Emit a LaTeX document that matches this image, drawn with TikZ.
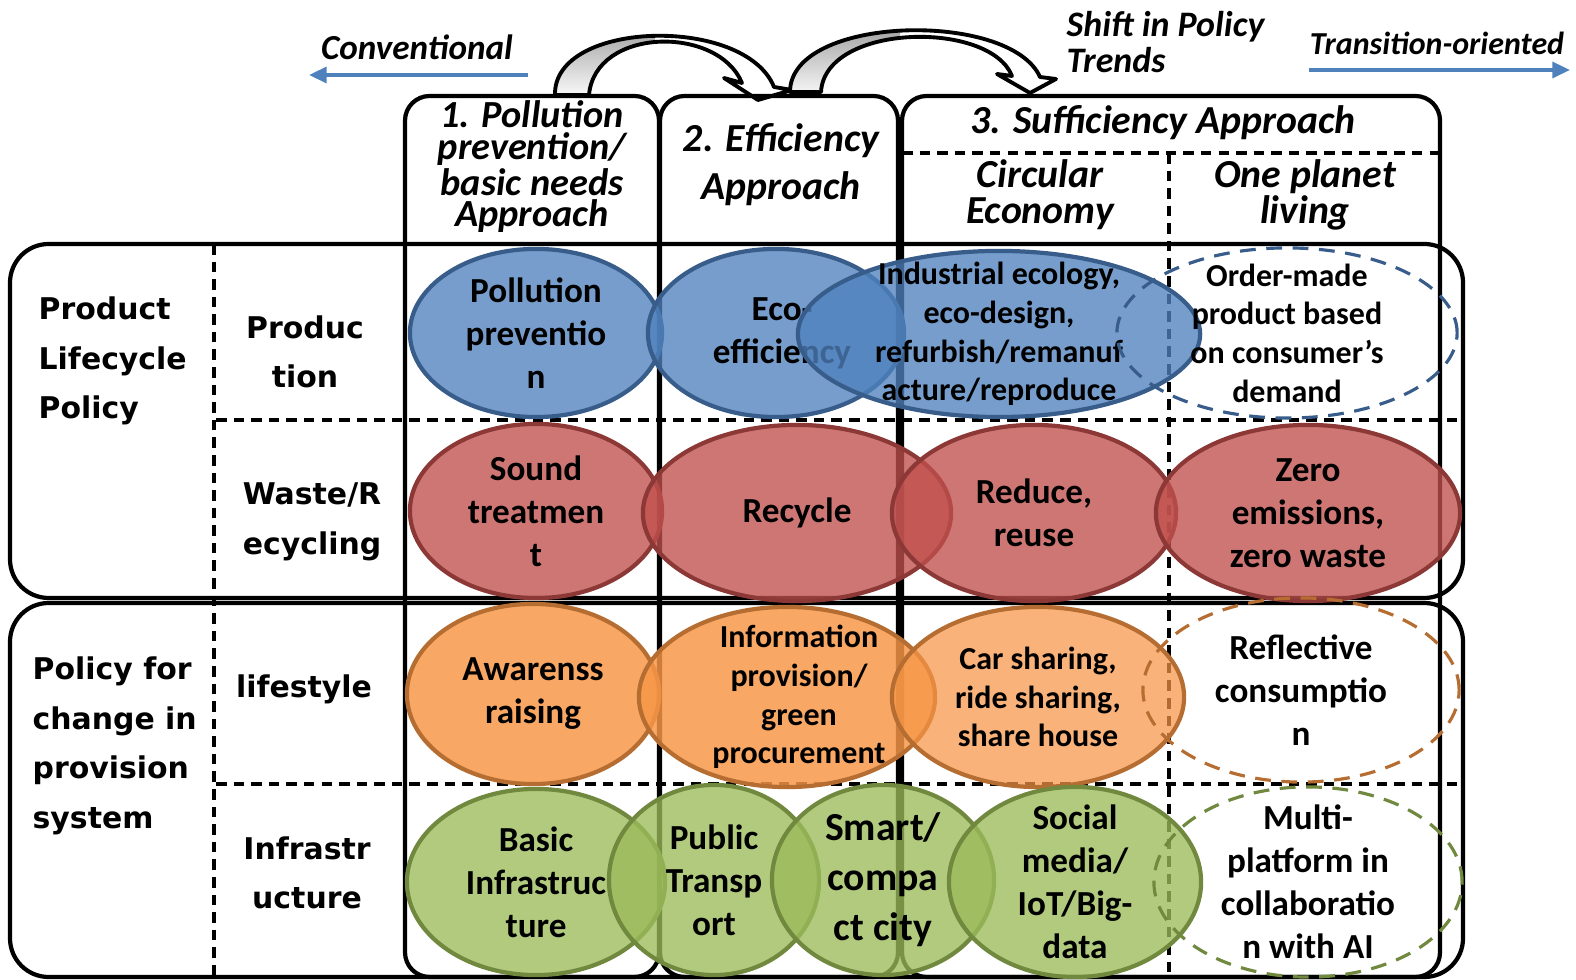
\documentclass[tikz,border=0pt]{standalone}
\usepackage{fontspec}
\setmainfont{Carlito}
\newfontfamily\rowfont{DejaVu Sans}
\usetikzlibrary{shapes.geometric,arrows.meta}

\definecolor{blueF}{RGB}{79,129,189}
\definecolor{blueD}{RGB}{56,93,138}
\definecolor{redF}{RGB}{192,80,77}
\definecolor{redD}{RGB}{140,56,54}
\definecolor{orangeF}{RGB}{247,150,70}
\definecolor{orangeD}{RGB}{182,109,49}
\definecolor{greenF}{RGB}{155,187,89}
\definecolor{greenD}{RGB}{113,137,63}
\definecolor{shade}{RGB}{204,204,204}

% outlines of the two bent arrows
\newcommand{\bendA}{(555,95) .. controls (553,20) and (745,15) .. (774,87) -- (792,90) -- (758,100) -- (724,78) -- (742,83) .. controls (718,25) and (595,27) .. (589,95) -- cycle}
\newcommand{\bendB}{(790,92) .. controls (790,15) and (1010,10) .. (1040,77) -- (1056,79) -- (1030,93) -- (997,74) -- (1012,76) .. controls (990,20) and (825,23) .. (821,92) -- cycle}

\begin{document}
\begin{tikzpicture}[x=0.01cm,y=-0.01cm,
	frame/.style={line width=1.2pt, rounded corners=7pt},
	split/.style={line width=0.9pt, dash pattern=on 3pt off 2pt},
	ellsize/.style 2 args={minimum width=#1*0.02cm, minimum height=#2*0.02cm},
	blob/.style={ellipse, line width=1.2pt, fill opacity=0.78, inner sep=0pt},
	hope/.style={ellipse, line width=0.9pt, dash pattern=on 4.5pt off 3pt, inner sep=0pt},
	txt/.style={font=\fontsize{10}{12.2}\selectfont\bfseries, align=center, inner sep=0pt},
	small/.style={font=\fontsize{9.1}{11}\selectfont\bfseries},
	head/.style={font=\fontsize{11.3}{13.7}\selectfont\bfseries\itshape, align=center, inner sep=0pt},
	rowlbl/.style={font=\rowfont\fontsize{8.5}{14.1}\selectfont\bfseries, align=center, inner sep=0pt},
	trend/.style={-{Triangle[length=5pt,width=4.5pt]}, line width=1pt, draw=blueF}]
	\useasboundingbox (0,0) rectangle (1576,980);

	% bent arrows on top
	\fill[white] \bendA;
	\begin{scope}
		\clip \bendA;
		\fill[shade] (540,0) rectangle (655,100);
	\end{scope}
	\draw[line width=1.1pt, line join=round] \bendA;
	\fill[white] \bendB;
	\begin{scope}
		\clip \bendB;
		\fill[shade] (780,0) rectangle (900,100);
	\end{scope}
	\draw[line width=1.1pt, line join=round] \bendB;

	% trend labels
	\node[head, font=\fontsize{10}{10}\selectfont\bfseries\itshape] (conv) at (417,47) {Conventional};
	\coordinate (convR) at (528,75);
	\coordinate (convL) at (309,75);
	\draw[trend] (convR) -- (convL);
	\node[head, font=\fontsize{10.2}{10}\selectfont\bfseries\itshape, align=left, anchor=west] (shift) at (1066,42) {Shift in Policy\\Trends};
	\node[head, font=\fontsize{9.1}{10}\selectfont\bfseries\itshape] (trans) at (1437,43) {Transition-oriented};
	\coordinate (transL) at (1309,70);
	\coordinate (transR) at (1570,70);
	\draw[trend] (transL) -- (transR);

	% column and row frames
	\draw[frame] (405,96) rectangle (659,977);
	\draw[frame] (660,96) rectangle (898,977);
	\draw[frame] (902,96) rectangle (1440,977);
	\draw[frame, rounded corners=11pt] (10,244) rectangle (1463,598);
	\draw[frame, rounded corners=11pt] (10,603) rectangle (1463,977);
	\draw[split] (214,244) -- (214,977);
	\draw[split] (216,420) -- (1463,420);
	\draw[split] (216,784) -- (1463,784);
	\draw[split] (902,153) -- (1440,153);
	\draw[split] (1169,153) -- (1169,977);

	% column heads
	\node[head, font=\fontsize{10.9}{8.9}\selectfont\bfseries\itshape] (h1) at (532,167) {1. Pollution\\prevention/\\basic needs\\Approach};
	\node[head] (h2) at (781,165) {2. Efficiency\\Approach};
	\node[head] (h3) at (1163,123) {3. Sufficiency Approach};
	\node[head, font=\fontsize{11.3}{10.3}\selectfont\bfseries\itshape] (h3a) at (1040,195) {Circular\\Economy};
	\node[head, font=\fontsize{11.3}{10.3}\selectfont\bfseries\itshape] (h3b) at (1305,195) {One planet\\living};

	% row heads
	\node[rowlbl, align=left, anchor=west] (plp) at (38,361) {Product\\Lifecycle\\Policy};
	\node[rowlbl, align=left, anchor=west] (pps) at (32,746) {Policy for\\change in\\provision\\system};
	\node[rowlbl] (prod) at (305,352) {Produc\\tion};
	\node[rowlbl] (waste) at (312,522) {Waste/R\\ecycling};
	\node[rowlbl] (life) at (304,689) {lifestyle};
	\node[rowlbl] (infra) at (307,873) {Infrastr\\ucture};

	% production
	\node[blob, ellsize={126}{84}, fill=blueF, draw=blueD] (poll) at (536,333) {};
	\node[txt] (tpoll) at (poll) {Pollution\\preventio\\n};
	\node[blob, ellsize={128}{84}, fill=blueF, draw=blueD] (eco) at (776,333) {};
	\node[txt, xshift=0.06cm] (teco) at (eco) {Eco-\\efficiency};
	\node[blob, ellsize={201}{83}, fill=blueF, draw=blueD] (indus) at (999,334) {};
	\node[txt, small] (tindus) at (indus) {Industrial ecology,\\eco-design,\\refurbish/remanuf\\acture/reproduce};
	\node[hope, ellsize={170}{85}, draw=blueD] (order) at (1287,333) {};
	\node[txt, small] (torder) at (order) {Order-made\\product based\\on consumer’s\\demand};

	% waste / recycling
	\node[blob, ellsize={126}{87}, fill=redF, draw=redD] (sound) at (536,511) {};
	\node[txt] (tsound) at (sound) {Sound\\treatmen\\t};
	\node[blob, ellsize={154}{88}, fill=redF, draw=redD] (recyc) at (797,513) {};
	\node[txt] (trecyc) at (recyc) {Recycle};
	\node[blob, ellsize={142}{88}, fill=redF, draw=redD] (reduce) at (1034,513) {};
	\node[txt] (treduce) at (reduce) {Reduce,\\reuse};
	\node[blob, ellsize={152}{88}, fill=redF, draw=redD] (zero) at (1308,513) {};
	\node[txt] (tzero) at (zero) {Zero\\emissions,\\zero waste};

	% lifestyle
	\node[blob, ellsize={126}{90}, fill=orangeF, draw=orangeD, fill opacity=0.84] (aware) at (533,694) {};
	\node[txt] (taware) at (aware) {Awarenss\\raising};
	\node[blob, ellsize={148}{90}, fill=orangeF, draw=orangeD, fill opacity=0.84] (info) at (787,697) {};
	\node[txt, small, xshift=0.12cm] (tinfo) at (info) {Information\\provision/\\green\\procurement};
	\node[blob, ellsize={146}{90}, fill=orangeF, draw=orangeD, fill opacity=0.72] (car) at (1038,697) {};
	\node[txt, small] (tcar) at (car) {Car sharing,\\ride sharing,\\share house};
	\node[hope, ellsize={158}{92}, draw=orangeD] (reflect) at (1301,690) {};
	\node[txt] (treflect) at (reflect) {Reflective\\consumptio\\n};

	% infrastructure
	\node[blob, ellsize={129}{93}, fill=greenF, draw=greenD] (basic) at (536,882) {};
	\node[txt] (tbasic) at (basic) {Basic\\Infrastruc\\ture};
	\node[blob, ellsize={105}{95}, fill=greenF, draw=greenD] (public) at (714,880) {};
	\node[txt] (tpublic) at (public) {Public\\Transp\\ort};
	\node[blob, ellsize={111}{95}, fill=greenF, draw=greenD] (smart) at (883,880) {};
	\node[txt, font=\fontsize{11.3}{14.2}\selectfont\bfseries] (tsmart) at (smart) {Smart/\\compa\\ct city};
	\node[blob, ellsize={126}{95}, fill=greenF, draw=greenD] (social) at (1075,882) {};
	\node[txt] (tsocial) at (social) {Social\\media/\\IoT/Big-\\data};
	\node[hope, ellsize={154}{95}, draw=greenD] (multi) at (1308,882) {};
	\node[txt] (tmulti) at (multi) {Multi-\\platform in\\collaboratio\\n with AI};
\end{tikzpicture}
\end{document}
